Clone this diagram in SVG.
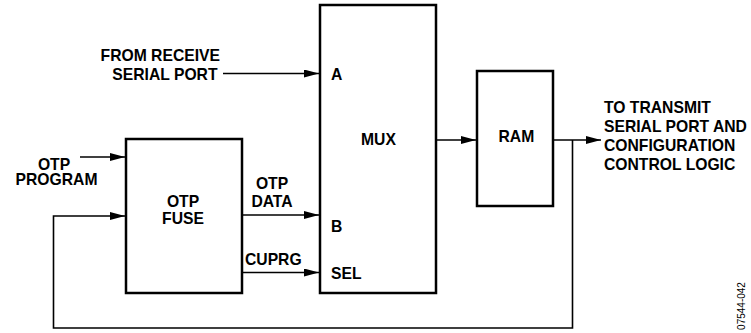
<svg xmlns="http://www.w3.org/2000/svg" width="751" height="333" viewBox="0 0 751 333">
<style>
.box{fill:#fff;stroke:#000;stroke-width:2.5}
.c{fill:none;stroke:#000;stroke-width:1.6}
.t{font-family:"Liberation Sans",Arial,sans-serif;font-weight:bold;font-size:15.7px;fill:#000}
.m{text-anchor:middle}
.e{text-anchor:end}
.id{font-family:"Liberation Sans",Arial,sans-serif;font-size:10px;fill:#000;text-anchor:middle}
</style>
<defs>
<marker id="ah" markerUnits="userSpaceOnUse" markerWidth="16" markerHeight="9" refX="15" refY="4" orient="auto">
<path d="M0,0 L15,4 L0,8 z" fill="#000"/>
</marker>
</defs>
<rect width="751" height="333" fill="#fff"/>
<g id="connectors">
<path class="c" d="M223,73.5 H319" marker-end="url(#ah)"/>
<path class="c" d="M80,157 H125" marker-end="url(#ah)"/>
<path class="c" d="M572.5,140 V328 H53.5 V216 H125" marker-end="url(#ah)"/>
<path class="c" d="M242,215 H319" marker-end="url(#ah)"/>
<path class="c" d="M242,272.5 H319" marker-end="url(#ah)"/>
<path class="c" d="M436,140 H476" marker-end="url(#ah)"/>
<path class="c" d="M553,140 H601" marker-end="url(#ah)"/>
</g>
<g id="mux">
<rect class="box" x="320" y="5" width="116" height="288"/>
<text class="t" x="361" y="145">MUX</text>
<text class="t" x="331" y="80">A</text>
<text class="t" x="331" y="231.5">B</text>
<text class="t" x="331" y="278.5">SEL</text>
</g>
<g id="ram">
<rect class="box" x="477" y="71" width="76" height="135"/>
<text class="t" x="498.5" y="141.5">RAM</text>
</g>
<g id="otp-fuse">
<rect class="box" x="126" y="139" width="116" height="154"/>
<text class="t m" x="183" y="206.5">OTP</text>
<text class="t m" x="183" y="224">FUSE</text>
</g>
<g id="labels">
<text class="t e" x="220" y="61">FROM RECEIVE</text>
<text class="t e" x="217.5" y="80">SERIAL PORT</text>
<text class="t m" x="54" y="169.5">OTP</text>
<text class="t m" x="56.5" y="185">PROGRAM</text>
<text class="t m" x="272" y="188.5">OTP</text>
<text class="t m" x="272" y="207">DATA</text>
<text class="t" x="245" y="265">CUPRG</text>
<text class="t" x="604" y="112.5">TO TRANSMIT</text>
<text class="t" x="604" y="131.5">SERIAL PORT AND</text>
<text class="t" x="604" y="151">CONFIGURATION</text>
<text class="t" x="604" y="170">CONTROL LOGIC</text>
<text class="id" transform="translate(745,306) rotate(-90)">07544-042</text>
</g>
</svg>
